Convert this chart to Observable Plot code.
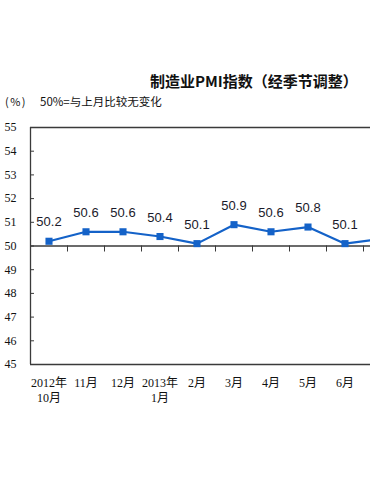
<!DOCTYPE html>
<html><head><meta charset="utf-8">
<script src="https://cdn.jsdelivr.net/npm/d3@7"></script>
<script src="https://cdn.jsdelivr.net/npm/@observablehq/plot@0.6"></script>
<style>
html,body{margin:0;padding:0;background:#fff;overflow:hidden;width:370px;height:493px}
#head{position:relative;height:115px}
#title{position:absolute;left:150px;top:73px;font:bold 15px "Noto Sans CJK SC";line-height:1;white-space:nowrap;color:#111}
#unit{position:absolute;left:5px;top:96px;font:11px "Noto Sans CJK SC";line-height:1;letter-spacing:1.5px;color:#111;white-space:nowrap}
#note{position:absolute;left:40px;top:96px;font:11.5px "Noto Sans CJK SC";line-height:1;color:#111;white-space:nowrap}
</style></head><body>
<div id="head">
  <div id="title">制造业PMI指数（经季节调整）</div>
  <div id="unit">(%)</div>
  <div id="note">50%=与上月比较无变化</div>
</div>
<div id="chart"></div>
<script>
const months = ["2012年\n10月", "11月", "12月", "2013年\n1月", "2月", "3月", "4月", "5月", "6月", "7月"];
const values = [50.2, 50.6, 50.6, 50.4, 50.1, 50.9, 50.6, 50.8, 50.1, 50.3];
const yTicks = [45, 46, 47, 48, 49, 50, 51, 52, 53, 54, 55];
const refLines = [45, 50, 55];
const visibleCount = 9; // the reference image is cropped after 6月

const idx = months.map((_, i) => i);
const bounds = months.map((_, i) => i - 0.5);
const data = months.map((m, i) => ({i, m, v: values[i]}));
const shown = data.slice(0, visibleCount);
const blue = "#1462c8";
const axisColor = "#3a3a3a";

const plot = Plot.plot({
  width: 370, height: 378,
  marginTop: 12, marginBottom: 129, marginLeft: 30, marginRight: 0,
  style: {background: "transparent", overflow: "hidden"},
  x: {domain: [-0.5, 9.5], range: [30, 400], axis: null},
  y: {domain: [45, 55], axis: null},
  marks: [
    Plot.ruleY(refLines, {stroke: axisColor, strokeWidth: 1.3}),
    Plot.ruleX([-0.5], {y1: 45, y2: 55, stroke: axisColor, strokeWidth: 1.3}),
    Plot.ruleY(yTicks, {x1: -0.5, x2: -0.5, insetRight: -4, stroke: axisColor}),
    Plot.ruleX(bounds, {y1: 50, y2: 50, insetBottom: -6, stroke: axisColor}),
    Plot.axisY(yTicks, {anchor: "left", label: null, tickSize: 0, tickPadding: 14, fontSize: 12,
      fontFamily: "'Liberation Serif', serif", fill: "#111", tickFormat: d => String(d)}),
    Plot.axisX(idx.slice(0, visibleCount), {anchor: "bottom", label: null, tickSize: 0, tickPadding: 13, fontSize: 12, lineHeight: 1.17,
      fontFamily: "'Liberation Serif', 'Noto Sans CJK SC', serif", fill: "#111", tickFormat: i => months[i]}),
    Plot.line(data, {x: "i", y: "v", stroke: blue, strokeWidth: 2.2}),
    Plot.dot(data, {x: "i", y: "v", symbol: "square", r: 4, fill: blue, stroke: "none"}),
    Plot.text(shown, {x: "i", y: "v", text: d => d.v.toFixed(1), dy: -19, fontSize: 13,
      fontFamily: "'Liberation Sans', Arial, sans-serif", fill: "#1a1a2a"})
  ]
});
document.getElementById("chart").append(plot);
</script>
</body></html>
